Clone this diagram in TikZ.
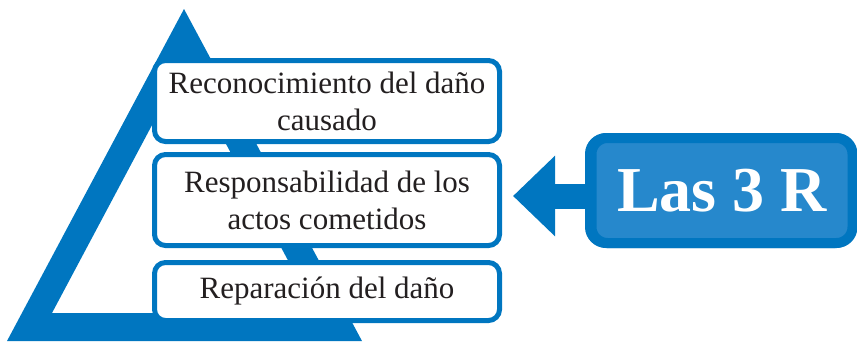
\documentclass[tikz,border=0pt]{standalone}
\usepackage{fontspec}
\setmainfont{Liberation Serif}
\usetikzlibrary{arrows.meta}
\definecolor{mainblue}{RGB}{0,118,192}
\definecolor{lightblue}{RGB}{38,136,204}
\definecolor{ink}{RGB}{35,31,32}
\tikzset{
  stepbox/.style={draw=mainblue, fill=white, line width=5pt, rounded corners=11pt,
    minimum width=345pt, align=center, text=ink, inner sep=0pt,
    font=\fontsize{31}{37}\selectfont},
  titlebox/.style={draw=mainblue, fill=lightblue, line width=10pt, rounded corners=16pt,
    minimum width=261pt, minimum height=105pt, text=white, inner sep=0pt,
    font=\fontsize{64}{70}\selectfont\bfseries},
  bigarrow/.style={draw=mainblue, line width=25pt, -{Triangle[length=42pt,width=78pt]}}
}
\begin{document}
\begin{tikzpicture}[x=1pt,y=-1pt]
\useasboundingbox (0,0) rectangle (857,341);
% pyramid
\fill[mainblue, even odd rule] (184,9) -- (7,341) -- (362,341) -- cycle
  (184,65) -- (52,313) -- (316,313) -- cycle;
% steps
\node[stepbox, minimum height=81pt] (b1) at (327,101) {Reconocimiento del daño\\causado};
\node[stepbox, minimum height=91pt] (b2) at (327,200) {Responsabilidad de los\\actos cometidos};
\node[stepbox, minimum height=58pt] (b3) at (327,291.5) {Reparación del daño};
% title box
\coordinate (tip) at (513,196);
\node[titlebox] (t) at (720.5,190.5) {};
\draw[bigarrow] (t.west |- tip) -- (tip);
\node[titlebox] (t2) at (722,190.5) {Las 3 R};
\end{tikzpicture}
\end{document}
